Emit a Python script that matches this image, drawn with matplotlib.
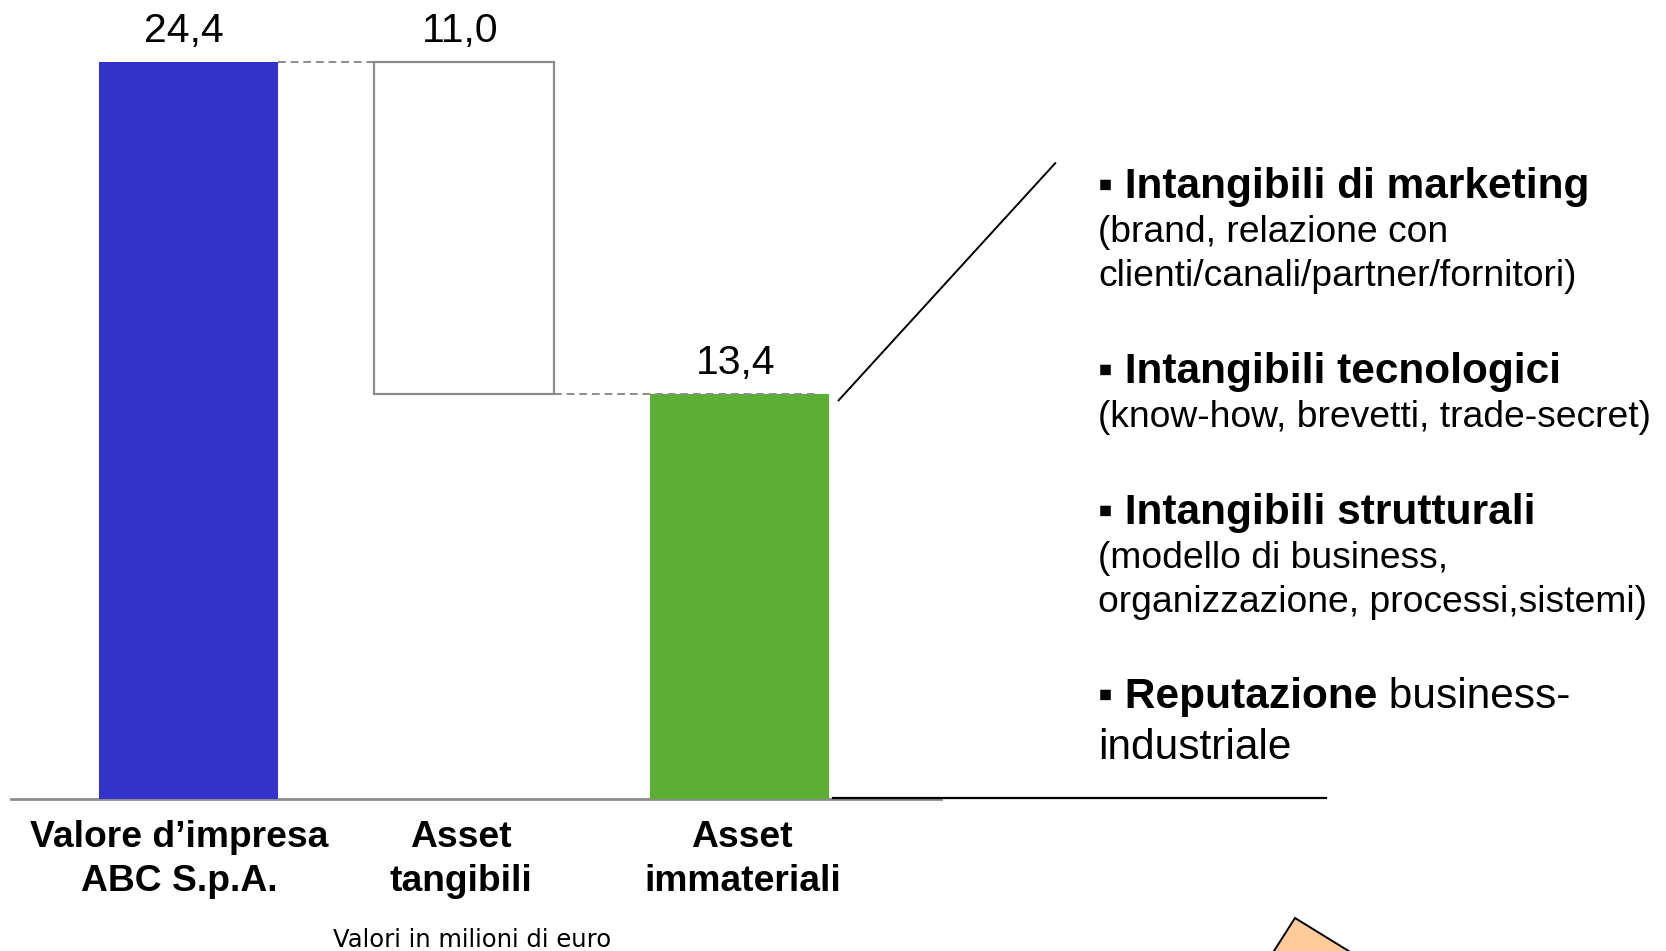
import matplotlib
matplotlib.use("Agg")
import matplotlib.pyplot as plt
from matplotlib.patches import Polygon

plt.rcParams['font.family'] = ['Liberation Sans', 'DejaVu Sans']

# Data
categories = ["Valore d\u2019impresa\nABC S.p.A.", "Asset\ntangibili", "Asset\nimmateriali"]
valore_impresa = 24.4
asset_tangibili = 11.0
asset_immateriali = 13.4
value_labels = ["24,4", "11,0", "13,4"]

bullets = [
    ("Intangibili di marketing", ["(brand, relazione con", "clienti/canali/partner/fornitori)"]),
    ("Intangibili tecnologici", ["(know-how, brevetti, trade-secret)"]),
    ("Intangibili strutturali", ["(modello di business,", "organizzazione, processi,sistemi)"]),
]
last_bold = "Reputazione"
last_rest = [" business-", "industriale"]
note = "Valori in milioni di euro"

W, H = 1666, 951
fig = plt.figure(figsize=(W / 100, H / 100), dpi=100)
ax = fig.add_axes([0, 0, 1, 1])
ax.axis("off")

# pixel layout -> data limits
step = 275.5
x0 = 188.5
ppu = 737 / 24.4
base = 799
ax.set_xlim(-x0 / step, (W - x0) / step)
ax.set_ylim(-(H - base) / ppu, base / ppu)

bw = 0.65
xs = [0, 1, 2]

ax.bar(xs[0], valore_impresa, width=bw, color="#3333CC", zorder=2)
ax.bar(xs[1], asset_tangibili, bottom=valore_impresa - asset_tangibili, width=bw,
       facecolor="white", edgecolor="#8C8C8C", linewidth=1.6, zorder=2)
ax.bar(xs[2], asset_immateriali, width=bw, color="#5BAF34", zorder=2)

# dashed connectors
ax.plot([xs[0] + bw / 2, xs[1] + 0.14], [valore_impresa, valore_impresa],
        ls=(0, (4, 2.5)), color="#8C8C8C", lw=1.4, zorder=3)
ax.plot([xs[1] + bw / 2, xs[2] + 0.28], [asset_immateriali, asset_immateriali],
        ls=(0, (4, 2.5)), color="#8C8C8C", lw=1.4, zorder=3)

# value labels
tops = [valore_impresa, valore_impresa, asset_immateriali]
for x, t, lab in zip(xs, tops, value_labels):
    ax.text(x - 0.015, t + 0.4, lab, ha="center", va="bottom", fontsize=29.5)

# category labels
label_shift = [-0.035, -0.01, 0.01]
for x, dx, lab in zip(xs, label_shift, categories):
    ax.text(x + dx, -0.7, lab, ha="center", va="top", fontsize=26.8, fontweight="bold",
            linespacing=1.32)

# baselines
ax.plot([-0.645, 2.73], [0, 0], color="#8C8C8C", lw=2, zorder=1)
ax.plot([2.34, 4.13], [0.03, 0.03], color="black", lw=1.6, zorder=1)

# diagonal callout line
ax.plot([2.36, 3.146], [13.2, 21.05], color="black", lw=1.4)

# right-hand text
def fx(px):
    return px / W

def fy(py):
    return 1 - py / H

tx = fx(1098)
title_y = [187, 372, 513]
sub_y = [[233, 277], [418], [559, 603]]
for (title, subs), ty, sys_ in zip(bullets, title_y, sub_y):
    fig.text(tx, fy(ty), "\u25aa " + title, fontsize=30.5, fontweight="bold", va="center")
    for s, y in zip(subs, sys_):
        fig.text(tx, fy(y), s, fontsize=26.8, va="center")

t1 = fig.text(tx, fy(697), "\u25aa " + last_bold, fontsize=30.5, fontweight="bold", va="center")
ax.annotate(last_rest[0], xy=(1, 0.5), xycoords=t1, fontsize=30.5, va="center", ha="left")
fig.text(tx, fy(748), last_rest[1], fontsize=30.5, va="center")

# note
fig.text(fx(472), fy(940), note, ha="center", va="center", fontsize=17.5,
         family=["DejaVu Sans"])

# orange shape in the corner
top = (1295, 918)
r = (0.852, 0.524)
l = (-0.537, 0.843)
L = 160
pts = [top,
       (top[0] + L * r[0], top[1] + L * r[1]),
       (top[0] + L * (r[0] + l[0]), top[1] + L * (r[1] + l[1])),
       (top[0] + L * l[0], top[1] + L * l[1])]
poly = Polygon([(fx(px), fy(py)) for px, py in pts], closed=True, transform=fig.transFigure,
               facecolor="#FFCC99", edgecolor="black", lw=1.4)
fig.patches.append(poly)

fig.savefig("out.png", dpi=100)
